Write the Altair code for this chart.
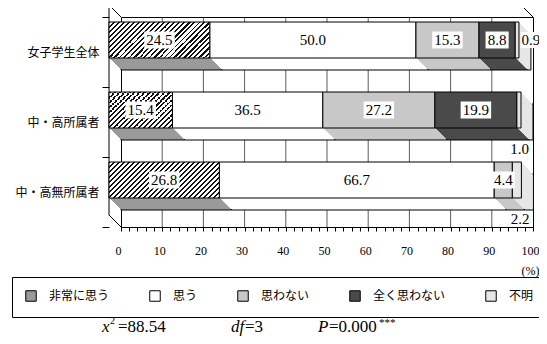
import altair as alt
import pandas as pd

# ---------------- data ----------------
groups = ["女子学生全体", "中・高所属者", "中・高無所属者"]
answers = ["非常に思う", "思う", "思わない", "全く思わない", "不明"]
values_all = [24.5, 50.0, 15.3, 8.8, 0.9]
values_member = [15.4, 36.5, 27.2, 19.9, 1.0]
values_nonmember = [26.8, 66.7, 4.4, 0.0, 2.2]
minor_ticks = list(range(0, 101, 2))
grid_values = list(range(10, 100, 10))

# ---------------- style ----------------
answer_fills = ["#9a9a9a", "#ffffff", "#c8c8c8", "#4a4a4a", "#e6e6e6"]
unknown_place = ["right", "below", "below"]   # where the small 不明 label sits
W, H = 412, 210
D = 12                      # pseudo-3D depth in pixels
BAR = 36                    # bar thickness in pixels
SERIF = "Liberation Serif"
JP = "Noto Sans CJK JP"
HATCH_PERIOD, HATCH_INK = 5.0, 2.0

all_values = [values_all, values_member, values_nonmember]
records = []
for g, vals, place in zip(groups, all_values, unknown_place):
    for i, (a, v) in enumerate(zip(answers, vals)):
        records.append({"group": g, "answer": a, "order": i, "value": v,
                        "place": "in" if a != "不明" else place})
df = pd.DataFrame(records)


def hatch_gradient(width_px, height_px):
    """45-degree '////' hatching built as a hard-stop linear gradient."""
    r = height_px / width_px
    k = (width_px + height_px) / (width_px * (1 + r * r))
    total = width_px + height_px
    stops = []
    s = 0.0
    while s < total:
        a, b, c = s / total, min((s + HATCH_INK) / total, 1), min((s + HATCH_PERIOD) / total, 1)
        stops += [{"offset": a, "color": "#111111"}, {"offset": b, "color": "#111111"},
                  {"offset": b, "color": "#ffffff"}, {"offset": c, "color": "#ffffff"}]
        s += HATCH_PERIOD
    return {"gradient": "linear", "x1": 0, "y1": 0, "x2": k, "y2": k * r, "stops": stops}


hatch_conditions = [
    {"test": f"datum.answer == '{answers[0]}' && datum.group == '{g}'",
     "value": hatch_gradient(vals[0] * W / 100, BAR)}
    for g, vals in zip(groups, all_values)
]

xs = alt.Scale(domain=[0, 100], nice=False, zero=True)
ys = alt.Scale(domain=groups, paddingInner=0, paddingOuter=0)
fs = alt.Scale(domain=answers, range=answer_fills)

x_axis = alt.Axis(values=minor_ticks,
                  labelExpr="datum.value % 10 == 0 ? datum.label : ''",
                  labelOverlap=False, labelFlush=False, grid=False, labelOffset=-3,
                  tickSize=4, tickColor="black", domainColor="black",
                  labelFont=SERIF, labelFontSize=12, labelColor="black", labelPadding=14,
                  title="(%)", titleFont=SERIF, titleFontSize=12, titleFontWeight="normal",
                  titleX=409, titleY=43, titleBaseline="middle", titleAlign="center",
                  titleColor="black")
y_axis = alt.Axis(title=None, domain=False, grid=False, offset=D,
                  tickBand="extent", tickOffset=-D, tickSize=7, tickColor="black",
                  labelFont=JP, labelFontSize=12, labelColor="black", labelPadding=3)
legend = alt.Legend(title=None, orient="none", legendX=-109, legendY=260,
                    direction="horizontal", gridAlign="none", columnPadding=37,
                    symbolType="square", symbolSize=110, symbolStrokeColor="black",
                    symbolStrokeWidth=1, labelFont=JP, labelFontSize=12,
                    labelColor="black", labelOffset=12, strokeColor="black",
                    padding=13, fillColor="white")


def X(field):
    return alt.X(field, scale=xs, axis=x_axis)


def Y(field="group:N"):
    return alt.Y(field, scale=ys, axis=y_axis)


stacked = (alt.Chart(df)
           .transform_stack(stack="value", as_=["x0", "x1"], groupby=["group"],
                            sort=[alt.SortField(field="order", order="ascending")])
           .transform_calculate(mid="(datum.x0 + datum.x1) / 2"))

# back-wall gridlines
grid = (alt.Chart(pd.DataFrame({"g": grid_values}))
        .mark_rule(color="#333333", strokeWidth=0.8)
        .encode(x=X("g:Q")))

dummy = alt.Data(values=[{"a": 1}])


def seg(x1, y1, x2, y2):
    return (alt.Chart(dummy).mark_rule(color="black", strokeWidth=1)
            .encode(x=alt.value(x1), y=alt.value(y1), x2=alt.value(x2), y2=alt.value(y2)))


frame = [
    seg(-D, -D, W - D, -D),
    seg(-D, -D, 0, 0),
    seg(W - D, -D, W, 0),
    seg(-D, -D, -D, H - D),
    seg(-D, H - D, 0, H),
]

faces = []
for o in range(0, D + 1):
    props = dict(size=BAR, xOffset=-o, x2Offset=-o, yOffset=-o)
    if o in (0, D):
        props.update(stroke="black", strokeWidth=1)
    if o == D:
        fill = alt.Fill("answer:N", scale=fs, legend=legend, condition=hatch_conditions)
    else:
        fill = alt.Fill("answer:N", scale=fs, legend=legend)
    faces.append(
        stacked.transform_filter("datum.value > 0")
        .mark_bar(**props)
        .encode(x=X("x0:Q"), x2="x1:Q", y=Y(), fill=fill)
    )

boxes = (stacked
         .transform_filter("datum.place == 'in' && datum.value > 0 && datum.answer != '思う'")
         .transform_calculate(hw="datum.value < 10 ? 2.8 : 3.7")
         .transform_calculate(b0="datum.mid - datum.hw", b1="datum.mid + datum.hw")
         .mark_bar(size=17, color="white", xOffset=-D, x2Offset=-D, yOffset=-D)
         .encode(x=X("b0:Q"), x2="b1:Q", y=Y()))

labels_in = (stacked.transform_filter("datum.place == 'in' && datum.value > 0")
             .mark_text(font=SERIF, fontSize=15, xOffset=-D, yOffset=-D, color="black")
             .encode(x=X("mid:Q"), y=Y(), text=alt.Text("value:Q", format=".1f")))

box_right = (stacked.transform_filter("datum.place == 'right'")
             .transform_calculate(b0="datum.x1 - 2.5", b1="datum.x1 + 2.5")
             .mark_bar(size=16, color="white", yOffset=-D)
             .encode(x=X("b0:Q"), x2="b1:Q", y=Y()))

labels_right = (stacked.transform_filter("datum.place == 'right'")
                .mark_text(font=SERIF, fontSize=15, yOffset=-D, color="black")
                .encode(x=X("x1:Q"), y=Y(), text=alt.Text("value:Q", format=".1f")))

labels_below = (stacked.transform_filter("datum.place == 'below'")
                .mark_text(font=SERIF, fontSize=15, align="right", xOffset=-4, yOffset=27,
                           color="black")
                .encode(x=X("x1:Q"), y=Y(), text=alt.Text("value:Q", format=".1f")))


def txt(s, x, y, size=17, italic=False, align="left"):
    return (alt.Chart(dummy)
            .mark_text(font=SERIF, fontSize=size, fontStyle="italic" if italic else "normal",
                       align=align, baseline="alphabetic", color="black")
            .encode(x=alt.value(x), y=alt.value(y), text=alt.value(s)))


SY = 315
stats = [
    txt("x", -19, SY, italic=True),
    txt("2", -11, SY - 8, size=10),
    txt("=88.54", -3, SY),
    txt("df", 110, SY, italic=True),
    txt("=3", 124, SY),
    txt("P", 197, SY, italic=True),
    txt("=0.000", 208, SY),
    txt("***", 258, SY - 6, size=11),
]

chart = alt.layer(grid, *frame, *faces, boxes, labels_in, box_right, labels_right,
                  labels_below, *stats).properties(
    width=W, height=H,
    autosize=alt.AutoSizeParams(type="none"),
    padding={"left": 113, "top": 9, "right": 6, "bottom": 109},
    background="white",
).configure_view(stroke="black", strokeWidth=1)

chart.save("out.html", embed_options={"renderer": "svg", "actions": False})
